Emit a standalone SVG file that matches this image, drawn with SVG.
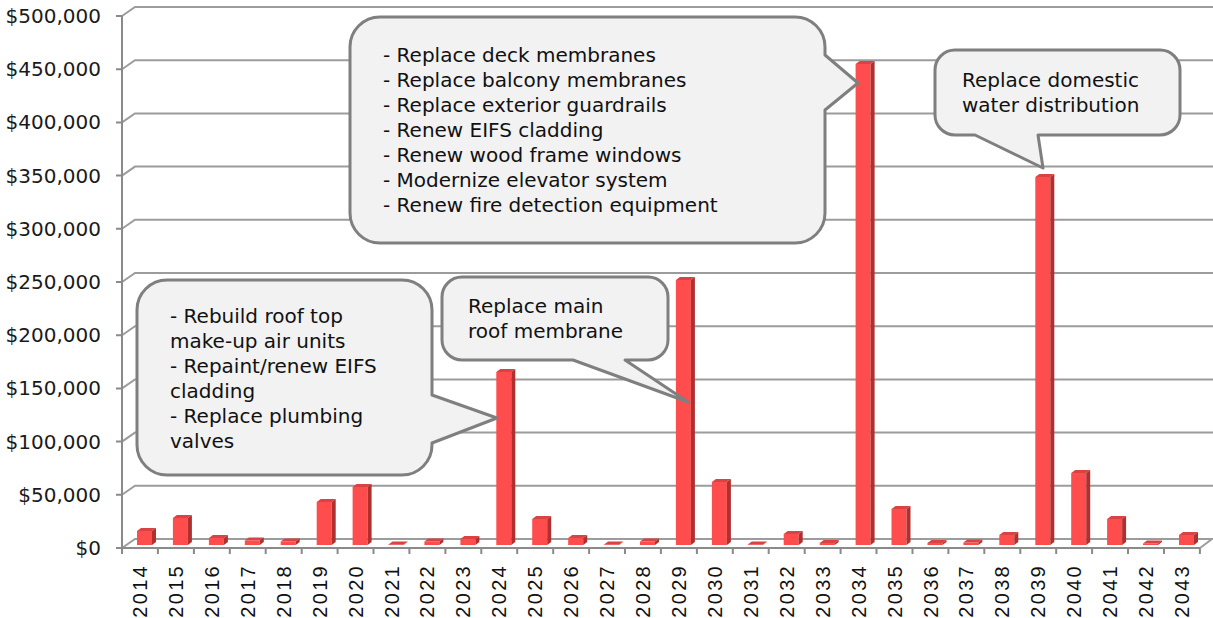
<svg xmlns="http://www.w3.org/2000/svg" width="1213" height="618" viewBox="0 0 1213 618">
  <style>
    .grid { fill: none; stroke: #9c9c9c; stroke-width: 2; }
    .axis { fill: none; stroke: #8a8a8a; stroke-width: 2; }
    .ylab { font-family: "DejaVu Sans", Verdana, sans-serif; font-size: 20px; fill: #1a1a1a; text-anchor: end; }
    .xlab { font-family: "Liberation Sans", Arial, sans-serif; font-size: 20px; letter-spacing: 2.3px; fill: #111; text-anchor: end; }
    .front { fill: #ff4d4d; }
    .top { fill: #d94343; }
    .side { fill: #b03030; }
    .bubble { fill: #f2f2f2; stroke: #7f7f7f; stroke-width: 3; stroke-linejoin: round; }
    .note { font-family: "DejaVu Sans", Verdana, sans-serif; font-size: 20px; fill: #111; }
  </style>

  <rect width="1213" height="618" fill="#ffffff"/>

  <!-- back wall gridlines with their perspective stubs -->
  <g id="gridlines">
    <path class="grid" d="M122,494.8 L135,485.8 H1213 M122,441.6 L135,432.6 H1213 M122,388.4 L135,379.4 H1213 M122,335.2 L135,326.2 H1213 M122,282 L135,273 H1213 M122,228.8 L135,219.8 H1213 M122,175.6 L135,166.6 H1213 M122,122.4 L135,113.4 H1213 M122,69.2 L135,60.2 H1213 M122,16 L135,7 H1213"/>
    <!-- floor -->
    <path class="grid" d="M122,548 L135,539 H1212 L1200,548"/>
  </g>

  <!-- axes and tick marks -->
  <g id="axes">
    <path class="axis" d="M122,16 V548 H1200"/>
    <path class="axis" d="M116,548 H122 M116,494.8 H122 M116,441.6 H122 M116,388.4 H122 M116,335.2 H122 M116,282 H122 M116,228.8 H122 M116,175.6 H122 M116,122.4 H122 M116,69.2 H122 M116,16 H122"/>
    <path class="axis" d="M122,548 V554 M157.9,548 V554 M193.9,548 V554 M229.8,548 V554 M265.7,548 V554 M301.7,548 V554 M337.6,548 V554 M373.5,548 V554 M409.4,548 V554 M445.4,548 V554 M481.3,548 V554 M517.2,548 V554 M553.2,548 V554 M589.1,548 V554 M625,548 V554 M660.9,548 V554 M696.9,548 V554 M732.8,548 V554 M768.7,548 V554 M804.7,548 V554 M840.6,548 V554 M876.5,548 V554 M912.5,548 V554 M948.4,548 V554 M984.3,548 V554 M1020.3,548 V554 M1056.2,548 V554 M1092.1,548 V554 M1128,548 V554 M1164,548 V554 M1199.9,548 V554"/>
  </g>

  <!-- value axis labels -->
  <g id="y-labels">
    <text class="ylab" x="101" y="555">$0</text>
    <text class="ylab" x="101" y="501.8">$50,000</text>
    <text class="ylab" x="101" y="448.6">$100,000</text>
    <text class="ylab" x="101" y="395.4">$150,000</text>
    <text class="ylab" x="101" y="342.2">$200,000</text>
    <text class="ylab" x="101" y="289">$250,000</text>
    <text class="ylab" x="101" y="235.8">$300,000</text>
    <text class="ylab" x="101" y="182.6">$350,000</text>
    <text class="ylab" x="101" y="129.4">$400,000</text>
    <text class="ylab" x="101" y="76.2">$450,000</text>
    <text class="ylab" x="101" y="23">$500,000</text>
  </g>

  <!-- year labels -->
  <g id="x-labels">
    <text class="xlab" transform="translate(147,564) rotate(-90)">2014</text>
    <text class="xlab" transform="translate(182.9,564) rotate(-90)">2015</text>
    <text class="xlab" transform="translate(218.9,564) rotate(-90)">2016</text>
    <text class="xlab" transform="translate(254.8,564) rotate(-90)">2017</text>
    <text class="xlab" transform="translate(290.7,564) rotate(-90)">2018</text>
    <text class="xlab" transform="translate(326.7,564) rotate(-90)">2019</text>
    <text class="xlab" transform="translate(362.6,564) rotate(-90)">2020</text>
    <text class="xlab" transform="translate(398.5,564) rotate(-90)">2021</text>
    <text class="xlab" transform="translate(434.4,564) rotate(-90)">2022</text>
    <text class="xlab" transform="translate(470.4,564) rotate(-90)">2023</text>
    <text class="xlab" transform="translate(506.3,564) rotate(-90)">2024</text>
    <text class="xlab" transform="translate(542.2,564) rotate(-90)">2025</text>
    <text class="xlab" transform="translate(578.2,564) rotate(-90)">2026</text>
    <text class="xlab" transform="translate(614.1,564) rotate(-90)">2027</text>
    <text class="xlab" transform="translate(650,564) rotate(-90)">2028</text>
    <text class="xlab" transform="translate(685.9,564) rotate(-90)">2029</text>
    <text class="xlab" transform="translate(721.9,564) rotate(-90)">2030</text>
    <text class="xlab" transform="translate(757.8,564) rotate(-90)">2031</text>
    <text class="xlab" transform="translate(793.7,564) rotate(-90)">2032</text>
    <text class="xlab" transform="translate(829.7,564) rotate(-90)">2033</text>
    <text class="xlab" transform="translate(865.6,564) rotate(-90)">2034</text>
    <text class="xlab" transform="translate(901.5,564) rotate(-90)">2035</text>
    <text class="xlab" transform="translate(937.5,564) rotate(-90)">2036</text>
    <text class="xlab" transform="translate(973.4,564) rotate(-90)">2037</text>
    <text class="xlab" transform="translate(1009.3,564) rotate(-90)">2038</text>
    <text class="xlab" transform="translate(1045.3,564) rotate(-90)">2039</text>
    <text class="xlab" transform="translate(1081.2,564) rotate(-90)">2040</text>
    <text class="xlab" transform="translate(1117.1,564) rotate(-90)">2041</text>
    <text class="xlab" transform="translate(1153,564) rotate(-90)">2042</text>
    <text class="xlab" transform="translate(1189,564) rotate(-90)">2043</text>
  </g>

  <!-- 3D bars: front face, top face, right side; origin at front-bottom-left -->
  <g id="bars">
    <g transform="translate(137,545)"><rect class="front" x="0" y="-14" width="15" height="14"/><polygon class="top" points="0,-14 4,-17 19,-17 15,-14"/><polygon class="side" points="15,-14 19,-17 19,-3 15,0"/></g>
    <g transform="translate(172.9,545)"><rect class="front" x="0" y="-27" width="15" height="27"/><polygon class="top" points="0,-27 4,-30 19,-30 15,-27"/><polygon class="side" points="15,-27 19,-30 19,-3 15,0"/></g>
    <g transform="translate(208.9,545)"><rect class="front" x="0" y="-7" width="15" height="7"/><polygon class="top" points="0,-7 4,-10 19,-10 15,-7"/><polygon class="side" points="15,-7 19,-10 19,-3 15,0"/></g>
    <g transform="translate(244.8,545)"><rect class="front" x="0" y="-4.5" width="15" height="4.5"/><polygon class="top" points="0,-4.5 4,-7.5 19,-7.5 15,-4.5"/><polygon class="side" points="15,-4.5 19,-7.5 19,-3 15,0"/></g>
    <g transform="translate(280.7,545)"><rect class="front" x="0" y="-3.5" width="15" height="3.5"/><polygon class="top" points="0,-3.5 4,-6.5 19,-6.5 15,-3.5"/><polygon class="side" points="15,-3.5 19,-6.5 19,-3 15,0"/></g>
    <g transform="translate(316.7,545)"><rect class="front" x="0" y="-43" width="15" height="43"/><polygon class="top" points="0,-43 4,-46 19,-46 15,-43"/><polygon class="side" points="15,-43 19,-46 19,-3 15,0"/></g>
    <g transform="translate(352.6,545)"><rect class="front" x="0" y="-58" width="15" height="58"/><polygon class="top" points="0,-58 4,-61 19,-61 15,-58"/><polygon class="side" points="15,-58 19,-61 19,-3 15,0"/></g>
    <g transform="translate(388.5,545)"><rect class="front" x="0" y="-0.6" width="15" height="0.6"/><polygon class="top" points="0,-0.6 4,-3.6 19,-3.6 15,-0.6"/><polygon class="side" points="15,-0.6 19,-3.6 19,-3 15,0"/></g>
    <g transform="translate(424.4,545)"><rect class="front" x="0" y="-3.5" width="15" height="3.5"/><polygon class="top" points="0,-3.5 4,-6.5 19,-6.5 15,-3.5"/><polygon class="side" points="15,-3.5 19,-6.5 19,-3 15,0"/></g>
    <g transform="translate(460.4,545)"><rect class="front" x="0" y="-6" width="15" height="6"/><polygon class="top" points="0,-6 4,-9 19,-9 15,-6"/><polygon class="side" points="15,-6 19,-9 19,-3 15,0"/></g>
    <g transform="translate(496.3,545)"><rect class="front" x="0" y="-173" width="15" height="173"/><polygon class="top" points="0,-173 4,-176 19,-176 15,-173"/><polygon class="side" points="15,-173 19,-176 19,-3 15,0"/></g>
    <g transform="translate(532.2,545)"><rect class="front" x="0" y="-26" width="15" height="26"/><polygon class="top" points="0,-26 4,-29 19,-29 15,-26"/><polygon class="side" points="15,-26 19,-29 19,-3 15,0"/></g>
    <g transform="translate(568.2,545)"><rect class="front" x="0" y="-7" width="15" height="7"/><polygon class="top" points="0,-7 4,-10 19,-10 15,-7"/><polygon class="side" points="15,-7 19,-10 19,-3 15,0"/></g>
    <g transform="translate(604.1,545)"><rect class="front" x="0" y="-0.6" width="15" height="0.6"/><polygon class="top" points="0,-0.6 4,-3.6 19,-3.6 15,-0.6"/><polygon class="side" points="15,-0.6 19,-3.6 19,-3 15,0"/></g>
    <g transform="translate(640,545)"><rect class="front" x="0" y="-3.5" width="15" height="3.5"/><polygon class="top" points="0,-3.5 4,-6.5 19,-6.5 15,-3.5"/><polygon class="side" points="15,-3.5 19,-6.5 19,-3 15,0"/></g>
    <g transform="translate(675.9,545)"><rect class="front" x="0" y="-265" width="15" height="265"/><polygon class="top" points="0,-265 4,-268 19,-268 15,-265"/><polygon class="side" points="15,-265 19,-268 19,-3 15,0"/></g>
    <g transform="translate(711.9,545)"><rect class="front" x="0" y="-63" width="15" height="63"/><polygon class="top" points="0,-63 4,-66 19,-66 15,-63"/><polygon class="side" points="15,-63 19,-66 19,-3 15,0"/></g>
    <g transform="translate(747.8,545)"><rect class="front" x="0" y="-0.6" width="15" height="0.6"/><polygon class="top" points="0,-0.6 4,-3.6 19,-3.6 15,-0.6"/><polygon class="side" points="15,-0.6 19,-3.6 19,-3 15,0"/></g>
    <g transform="translate(783.7,545)"><rect class="front" x="0" y="-11" width="15" height="11"/><polygon class="top" points="0,-11 4,-14 19,-14 15,-11"/><polygon class="side" points="15,-11 19,-14 19,-3 15,0"/></g>
    <g transform="translate(819.7,545)"><rect class="front" x="0" y="-2" width="15" height="2"/><polygon class="top" points="0,-2 4,-5 19,-5 15,-2"/><polygon class="side" points="15,-2 19,-5 19,-3 15,0"/></g>
    <g transform="translate(855.6,545)"><rect class="front" x="0" y="-481" width="15" height="481"/><polygon class="top" points="0,-481 4,-484 19,-484 15,-481"/><polygon class="side" points="15,-481 19,-484 19,-3 15,0"/></g>
    <g transform="translate(891.5,545)"><rect class="front" x="0" y="-36" width="15" height="36"/><polygon class="top" points="0,-36 4,-39 19,-39 15,-36"/><polygon class="side" points="15,-36 19,-39 19,-3 15,0"/></g>
    <g transform="translate(927.5,545)"><rect class="front" x="0" y="-2" width="15" height="2"/><polygon class="top" points="0,-2 4,-5 19,-5 15,-2"/><polygon class="side" points="15,-2 19,-5 19,-3 15,0"/></g>
    <g transform="translate(963.4,545)"><rect class="front" x="0" y="-2.5" width="15" height="2.5"/><polygon class="top" points="0,-2.5 4,-5.5 19,-5.5 15,-2.5"/><polygon class="side" points="15,-2.5 19,-5.5 19,-3 15,0"/></g>
    <g transform="translate(999.3,545)"><rect class="front" x="0" y="-10" width="15" height="10"/><polygon class="top" points="0,-10 4,-13 19,-13 15,-10"/><polygon class="side" points="15,-10 19,-13 19,-3 15,0"/></g>
    <g transform="translate(1035.3,545)"><rect class="front" x="0" y="-368" width="15" height="368"/><polygon class="top" points="0,-368 4,-371 19,-371 15,-368"/><polygon class="side" points="15,-368 19,-371 19,-3 15,0"/></g>
    <g transform="translate(1071.2,545)"><rect class="front" x="0" y="-72" width="15" height="72"/><polygon class="top" points="0,-72 4,-75 19,-75 15,-72"/><polygon class="side" points="15,-72 19,-75 19,-3 15,0"/></g>
    <g transform="translate(1107.1,545)"><rect class="front" x="0" y="-26" width="15" height="26"/><polygon class="top" points="0,-26 4,-29 19,-29 15,-26"/><polygon class="side" points="15,-26 19,-29 19,-3 15,0"/></g>
    <g transform="translate(1143,545)"><rect class="front" x="0" y="-1.5" width="15" height="1.5"/><polygon class="top" points="0,-1.5 4,-4.5 19,-4.5 15,-1.5"/><polygon class="side" points="15,-1.5 19,-4.5 19,-3 15,0"/></g>
    <g transform="translate(1179,545)"><rect class="front" x="0" y="-10" width="15" height="10"/><polygon class="top" points="0,-10 4,-13 19,-13 15,-10"/><polygon class="side" points="15,-10 19,-13 19,-3 15,0"/></g>
  </g>

  <!-- callouts: the pointer is part of each bubble outline -->
  <g id="callout-2024">
    <path class="bubble" d="M167,280 H402 A30,30 0 0 1 432,310 V395 L497,418 L432,443 V445 A30,30 0 0 1 402,475 H167 A30,30 0 0 1 137,445 V310 A30,30 0 0 1 167,280 Z"/>
    <text class="note" x="170" y="323">- Rebuild roof top</text>
    <text class="note" x="170" y="348">make-up air units</text>
    <text class="note" x="170" y="373">- Repaint/renew EIFS</text>
    <text class="note" x="170" y="398">cladding</text>
    <text class="note" x="170" y="423">- Replace plumbing</text>
    <text class="note" x="170" y="448">valves</text>
  </g>

  <g id="callout-2029">
    <path class="bubble" d="M462,277 H648 A20,20 0 0 1 668,297 V340 A20,20 0 0 1 648,360 H625 L688,402 L573,360 H462 A20,20 0 0 1 442,340 V297 A20,20 0 0 1 462,277 Z"/>
    <text class="note" x="468" y="313">Replace main</text>
    <text class="note" x="468" y="338">roof membrane</text>
  </g>

  <g id="callout-2034">
    <path class="bubble" d="M380,17 H795 A30,30 0 0 1 825,47 V55 L858,83 L825,110 V213 A30,30 0 0 1 795,243 H380 A30,30 0 0 1 350,213 V47 A30,30 0 0 1 380,17 Z"/>
    <text class="note" x="383" y="62">- Replace deck membranes</text>
    <text class="note" x="383" y="87">- Replace balcony membranes</text>
    <text class="note" x="383" y="112">- Replace exterior guardrails</text>
    <text class="note" x="383" y="137">- Renew EIFS cladding</text>
    <text class="note" x="383" y="162">- Renew wood frame windows</text>
    <text class="note" x="383" y="187">- Modernize elevator system</text>
    <text class="note" x="383" y="212">- Renew fire detection equipment</text>
  </g>

  <g id="callout-2039">
    <path class="bubble" d="M955,50 H1160 A20,20 0 0 1 1180,70 V115 A20,20 0 0 1 1160,135 H1038 L1043,168 L975,135 H955 A20,20 0 0 1 935,115 V70 A20,20 0 0 1 955,50 Z"/>
    <text class="note" x="962" y="87">Replace domestic</text>
    <text class="note" x="962" y="112">water distribution</text>
  </g>
</svg>
